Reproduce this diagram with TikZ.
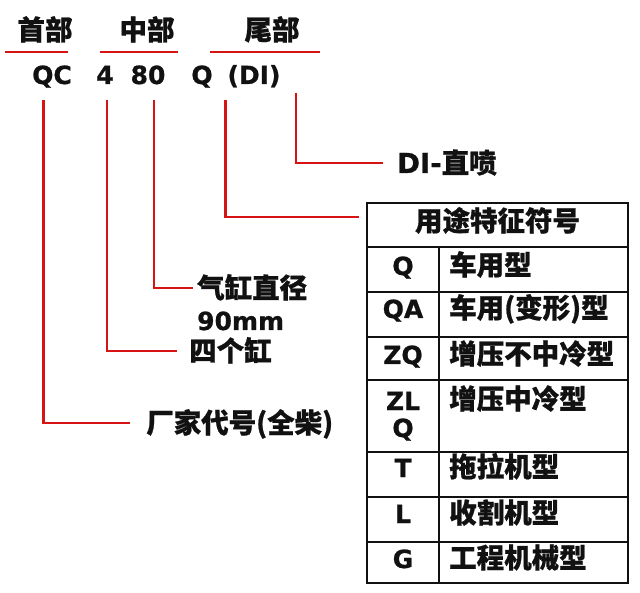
\documentclass[tikz,border=0pt]{standalone}
\usepackage{fontspec}
\setmainfont{Noto Sans CJK SC}[BoldFeatures={FakeBold=0.8}]
\newfontfamily\lat{DejaVu Sans}[BoldFeatures={FakeBold=0.8}]
\definecolor{lred}{RGB}{214,20,20}
\definecolor{ink}{RGB}{17,17,17}
\begin{document}
\begin{tikzpicture}[x=1pt,y=-1pt,
  txt/.style={inner sep=0pt,text height=20pt,text depth=0pt,font=\fontsize{27.5}{30}\selectfont\bfseries,text=ink},
  ltxt/.style={txt,font=\fontsize{25}{28}\selectfont\lat\bfseries},
  redline/.style={draw=lred,line width=2.4pt},
  grid/.style={draw=ink,line width=1.5pt}]
\useasboundingbox (0,0) rectangle (640,593);
% headers
\node[txt] (h1) at (45,30) {首部};
\node[txt] (h2) at (147,30) {中部};
\node[txt] (h3) at (272,30) {尾部};
\draw[redline] (5,52) -- (68,52);
\draw[redline] (100,52) -- (178,52);
\draw[redline] (210,52) -- (320,52);
% code
\node[ltxt] (qc) at (52,74) {QC};
\node[ltxt] (n4) at (105,74) {4};
\node[ltxt] (n80) at (148,74) {80};
\node[ltxt] (nq) at (202,74) {Q};
\node[ltxt] (ndi) at (254,74) {(DI)};
% labels
\node[txt,anchor=west] (lf) at (146,423) {厂家代号(全柴)};
\node[txt,anchor=west] (l4) at (189,351) {四个缸};
\node[txt,anchor=west] (l80) at (197,288) {气缸直径};
\node[ltxt,anchor=west] (l90) at (197,320) {90mm};
\node[txt,anchor=west] (ldi) at (397,163) {{\lat\bfseries DI-}直喷};
% connector start points
\coordinate (c1) at (43.5,100);
\coordinate (c2) at (107,100);
\coordinate (c3) at (154,100);
\coordinate (c4) at (225.5,100);
\coordinate (c5) at (296,93);
% table
\coordinate (tl) at (367,203);
\coordinate (br) at (628,583);
\draw[redline] (c1) |- ([xshift=-16pt]lf.west);
\draw[redline] (c2) |- ([xshift=-12pt]l4.west);
\draw[redline] (c3) |- ([xshift=-4pt]l80.west);
\draw[redline] (c4) |- ([yshift=-14pt,xshift=-8pt]tl);
\draw[redline] (c5) |- ([xshift=-14pt]ldi.west);
\draw[grid] (367,247) -- (628,247);
\foreach \yy in {292,337,380,452,497,542}{\draw[grid] (367,\yy) -- (628,\yy);}
\draw[grid] (439,247) -- (439,583);
\draw[draw=ink,line width=2.2pt] (tl) rectangle (br);
\node[txt] (th) at (497.5,221) {用途特征符号};
\node[ltxt] (k1) at (403,265) {Q};
\node[ltxt] (k2) at (403,308) {QA};
\node[ltxt] (k3) at (403,354) {ZQ};
\node[ltxt] (k4a) at (403,400) {ZL};
\node[ltxt] (k4b) at (403,427) {Q};
\node[ltxt] (k5) at (403,467) {T};
\node[ltxt] (k6) at (403,513) {L};
\node[ltxt] (k7) at (403,558) {G};
\node[txt,anchor=west] (v1) at (449,265) {车用型};
\node[txt,anchor=west] (v2) at (449,308) {车用(变形)型};
\node[txt,anchor=west] (v3) at (449,354) {增压不中冷型};
\node[txt,anchor=west] (v4) at (449,399) {增压中冷型};
\node[txt,anchor=west] (v5) at (449,467) {拖拉机型};
\node[txt,anchor=west] (v6) at (449,513) {收割机型};
\node[txt,anchor=west] (v7) at (449,558) {工程机械型};
\end{tikzpicture}
\end{document}
